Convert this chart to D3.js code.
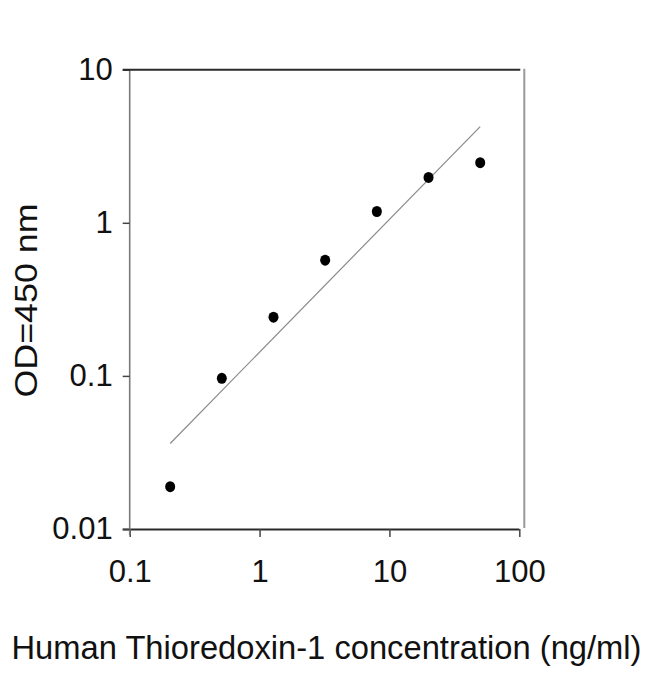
<!DOCTYPE html>
<html>
<head>
<meta charset="utf-8">
<script src="https://cdn.jsdelivr.net/npm/d3@7"></script>
<style>
  html, body { margin: 0; padding: 0; background: #fff; }
  svg { display: block; }
  text { font-family: "Liberation Sans", Arial, sans-serif; fill: #111; }
</style>
</head>
<body>
<svg id="chart" width="650" height="674"></svg>
<script>
// Data
const concentrations = [0.205, 0.512, 1.28, 3.2, 8, 20, 50];
const odValues = [0.0189, 0.0964, 0.242, 0.57, 1.185, 1.98, 2.47];
const trendX = [0.205, 50];
const trendY = [0.0362, 4.25];
const xTicks = [0.1, 1, 10, 100];
const yTicks = [0.01, 0.1, 1, 10];
const xTickLabels = ["0.1", "1", "10", "100"];
const yTickLabels = ["0.01", "0.1", "1", "10"];
const xTitle = "Human Thioredoxin-1 concentration (ng/ml)";
const yTitle = "OD=450 nm";

const svg = d3.select("#chart");
const L = 129.7, R = 519.3, T = 69.7, B = 529;

const x = d3.scaleLog().domain([0.1, 100]).range([L, R]);
const y = d3.scaleLog().domain([0.01, 10]).range([B, T]);

// Bottom axis
const gx = svg.append("g").attr("transform", `translate(0,${B})`)
  .call(d3.axisBottom(x).tickValues(xTicks).tickSize(8).tickSizeOuter(0)
    .tickFormat((d, i) => xTickLabels[i]));
gx.select(".domain").attr("stroke", "#2a2a2a").attr("stroke-width", 2)
  .attr("d", `M${L - 7},0.5H${R}`);
gx.selectAll(".tick line").attr("stroke", "#444").attr("stroke-width", 1.5);
gx.selectAll(".tick text").attr("y", 31).attr("dy", "0.71em")
  .style("font-size", "31px").style("font-family", '"Liberation Sans", Arial, sans-serif').attr("fill", "#111");

// Left axis
const gy = svg.append("g").attr("transform", `translate(${L},0)`)
  .call(d3.axisLeft(y).tickValues(yTicks).tickSize(7).tickSizeOuter(0)
    .tickFormat((d, i) => yTickLabels[i]));
gy.select(".domain").attr("stroke", "#7a7a7a").attr("stroke-width", 1.6)
  .attr("d", `M0,${T}V${B + 6}`);
gy.selectAll(".tick line").attr("stroke", "#444").attr("stroke-width", 1.5);
gy.selectAll(".tick text").attr("x", -17)
  .style("font-size", "31px").style("font-family", '"Liberation Sans", Arial, sans-serif').attr("fill", "#111");

// Top and right frame lines
svg.append("line").attr("x1", L - 7).attr("x2", R + 1).attr("y1", T).attr("y2", T)
  .attr("stroke", "#2a2a2a").attr("stroke-width", 2);
svg.append("line").attr("x1", R + 5).attr("x2", R + 5).attr("y1", T - 1).attr("y2", B - 1)
  .attr("stroke", "#999").attr("stroke-width", 2);

// Trend line
const line = d3.line().x(d => x(d[0])).y(d => y(d[1]));
svg.append("path").datum(trendX.map((v, i) => [v, trendY[i]]))
  .attr("d", line).attr("fill", "none").attr("stroke", "#8a8a8a").attr("stroke-width", 1.2);

// Points
svg.append("g").selectAll("ellipse").data(concentrations).join("ellipse")
  .attr("cx", (d) => x(d)).attr("cy", (d, i) => y(odValues[i]))
  .attr("rx", 5).attr("ry", 5.5).attr("fill", "#000");

// Titles
svg.append("text").attr("x", 11.5).attr("y", 659)
  .attr("textLength", 630).attr("lengthAdjust", "spacingAndGlyphs")
  .style("font-size", "33px").text(xTitle);

svg.append("text").attr("transform", "translate(37,300.5) rotate(-90)")
  .attr("text-anchor", "middle")
  .attr("textLength", 194).attr("lengthAdjust", "spacingAndGlyphs")
  .style("font-size", "31px").text(yTitle);
</script>
</body>
</html>
